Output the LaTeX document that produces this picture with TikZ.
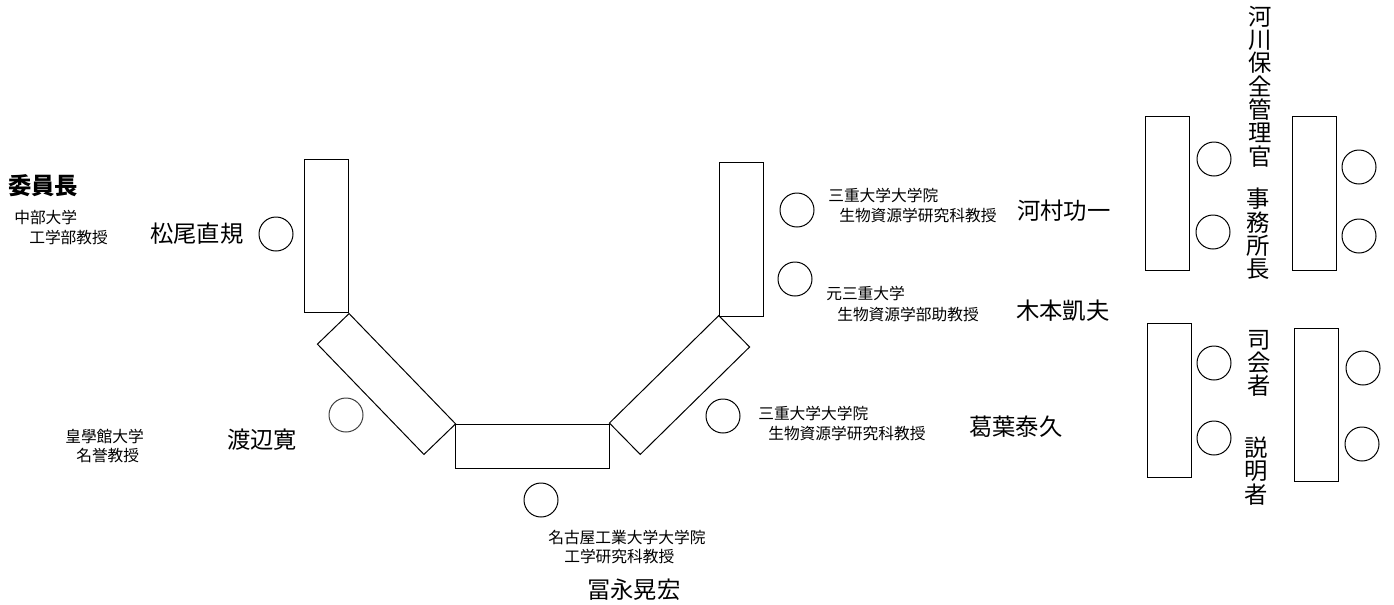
\documentclass[tikz,border=0pt]{standalone}
\usepackage{fontspec}
\setmainfont{Noto Sans CJK JP}
\usepackage{tikz}
\pgfdeclarelayer{desklayer}
\pgfdeclarelayer{textlayer}
\pgfsetlayers{desklayer,textlayer,main}
\lineskiplimit=-20pt
\tikzstyle{desk}=[rectangle,draw=black,line width=0.75pt,fill=white,inner sep=0,minimum width=33pt,minimum height=115pt]
\tikzstyle{seat}=[circle,draw=black,line width=0.75pt,fill=white,inner sep=0,minimum size=25.5pt]
\tikzstyle{person}=[anchor=west,inner sep=0,font=\fontsize{17.5pt}{21pt}\selectfont]
\tikzstyle{affil}=[anchor=west,inner sep=0,font=\fontsize{11.8pt}{14pt}\selectfont]
\tikzstyle{vtext}=[align=center,inner sep=0,font=\fontsize{17.5pt}{17.5pt}\selectfont]

\begin{document}
\begin{tikzpicture}[x=0.75pt,y=-0.75pt]
	\useasboundingbox (0,0) rectangle (1394,604);
	\begin{pgfonlayer}{desklayer}
		\node [style=desk] (d1) at (326.5, 236) {};
		\node [style=desk, rotate=44] (d2) at (386.5, 384) {};
		\node [style=desk, rotate=90] (d3) at (532.5, 446) {};
		\node [style=desk, rotate=-45.5] (d4) at (679.5, 385) {};
		\node [style=desk] (d5) at (741, 239.5) {};
		\node [style=desk] (d6) at (1167.5, 193.5) {};
		\node [style=desk] (d7) at (1314, 193.5) {};
		\node [style=desk] (d8) at (1169, 400.5) {};
		\node [style=desk] (d9) at (1316, 405) {};
	\end{pgfonlayer}
	\node [style=seat] (matsuo) at (276, 234) {};
	\node [style=seat, draw=black!75] (watanabe) at (346, 415) {};
	\node [style=seat] (tominaga) at (541, 500) {};
	\node [style=seat] (kuzuha) at (723, 416) {};
	\node [style=seat] (kawamura) at (797, 210) {};
	\node [style=seat] (kimoto) at (795, 279) {};
	\node [style=seat] (s1) at (1214, 159) {};
	\node [style=seat] (s2) at (1213, 232) {};
	\node [style=seat] (s3) at (1359, 167) {};
	\node [style=seat] (s4) at (1359, 236) {};
	\node [style=seat] (s5) at (1214, 363) {};
	\node [style=seat] (s6) at (1214, 438) {};
	\node [style=seat] (s7) at (1363, 368) {};
	\node [style=seat] (s8) at (1362, 444) {};
	\begin{pgfonlayer}{textlayer}
		% chair
		\node [style=person, font=\fontsize{17.5pt}{21pt}\selectfont\bfseries] (chair) at (8, 186) {委員長};
		\node [style=affil] (p1a) at (14, 217) {中部大学};
		\node [style=affil] (p1b) at (29, 237) {工学部教授};
		\node [style=person] (n1) at (150, 234) {松尾直規};
		\node [style=affil] (p2a) at (65, 436) {皇學館大学};
		\node [style=affil] (p2b) at (76, 456) {名誉教授};
		\node [style=person] (n2) at (227, 440) {渡辺寛};
		\node [style=affil] (p3a) at (548, 537) {名古屋工業大学大学院};
		\node [style=affil] (p3b) at (564, 557) {工学研究科教授};
		\node [style=person] (n3) at (587, 590) {冨永晃宏};
		\node [style=affil] (p4a) at (758, 413) {三重大学大学院};
		\node [style=affil] (p4b) at (768, 434) {生物資源学研究科教授};
		\node [style=person] (n4) at (969, 427) {葛葉泰久};
		\node [style=affil] (p5a) at (828, 195) {三重大学大学院};
		\node [style=affil] (p5b) at (839, 216) {生物資源学研究科教授};
		\node [style=person] (n5) at (1017, 211) {河村功一};
		\node [style=affil] (p6a) at (826, 293) {元三重大学};
		\node [style=affil] (p6b) at (837, 314) {生物資源学部助教授};
		\node [style=person] (n6) at (1016, 311) {木本凱夫};
		% staff
		\node [style=vtext] (v1) at (1260, 86.5) {河\\川\\保\\全\\管\\理\\官};
		\node [style=vtext] (v2) at (1258, 234) {事\\務\\所\\長};
		\node [style=vtext] (v3) at (1259, 363.5) {司\\会\\者};
		\node [style=vtext] (v4) at (1256, 471) {説\\明\\者};
	\end{pgfonlayer}
\end{tikzpicture}
\end{document}
